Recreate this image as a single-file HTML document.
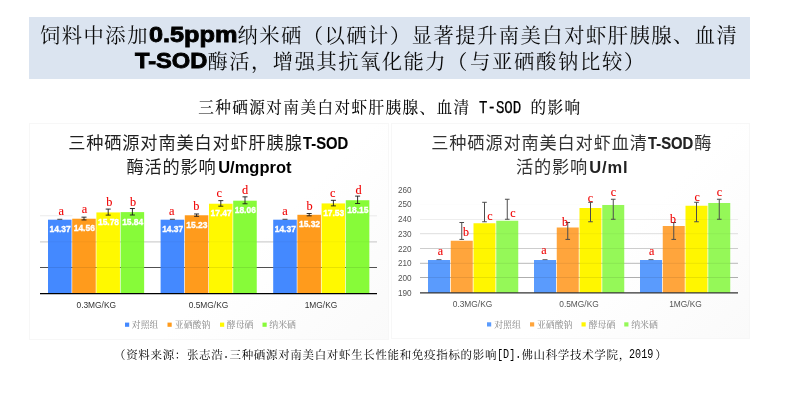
<!DOCTYPE html>
<html lang="zh-CN">
<head>
<meta charset="utf-8">
<title>饲料中添加0.5ppm纳米硒</title>
<style>
html,body{margin:0;padding:0;}
body{width:800px;height:405px;background:#fff;position:relative;overflow:hidden;font-family:"Liberation Serif","Noto Serif CJK SC",serif;}
.abs{position:absolute;white-space:nowrap;}
#banner{left:29px;top:17px;width:721px;height:62px;background:#dbe4f0;}
.h1{font-size:20.3px;letter-spacing:1.5px;line-height:26px;color:#0a0a0a;}
.h1 b{display:inline-block;height:26px;vertical-align:top;position:relative;}
.h1 b i{font-style:normal;position:absolute;left:0;top:-0.9px;font-family:"Liberation Sans",sans-serif;font-weight:700;-webkit-text-stroke:0.85px #000;color:#000;font-size:21.7px;letter-spacing:0;line-height:26px;transform-origin:0 50%;white-space:pre;}
#sub{left:198.3px;top:97.9px;font-size:15.6px;letter-spacing:1.42px;line-height:20px;color:#000;-webkit-text-stroke:0.1px #000;}
#sub span{display:inline-block;width:59.85px;height:20px;vertical-align:top;position:relative;}
#sub span i{font-style:normal;position:absolute;left:8.1px;top:0.3px;font-family:"Liberation Mono",monospace;font-size:17.6px;letter-spacing:0;line-height:20px;-webkit-text-stroke:0.25px #000;transform:scaleX(0.8);transform-origin:0 50%;white-space:pre;}
.ct{font-family:"Liberation Sans","Noto Sans CJK SC",sans-serif;font-size:17.2px;letter-spacing:0.85px;line-height:23px;color:#222;}
.ct b{font-family:"Liberation Sans",sans-serif;font-weight:700;color:#000;letter-spacing:0;}
.ct b.t{display:inline-block;width:46px;margin-left:0.5px;text-align:left;font-size:16.4px;}
.ct b.t i{font-style:normal;display:inline-block;transform:scaleX(0.905);transform-origin:0 50%;-webkit-text-stroke:0.15px #000;}
#foot{left:114px;top:346.4px;font-size:11.5px;letter-spacing:0.66px;line-height:18px;color:#000;}
#foot span{display:inline-block;height:18px;vertical-align:top;position:relative;}
#foot span i{font-style:normal;position:absolute;left:0;top:0;font-family:"Liberation Mono",monospace;font-size:12.6px;letter-spacing:0;line-height:18px;transform:scaleX(0.804);transform-origin:0 50%;white-space:pre;}
.frame{border:1px solid #f7f7f7;box-sizing:border-box;background:linear-gradient(135deg,#fff 0%,#fff 60%,#fafafa 100%);}
svg{position:absolute;left:0;top:0;}
</style>
</head>
<body>
<div class="abs" id="banner"></div>
<div class="abs h1" style="top:23.1px;left:40px">饲料中添加<b style="width:88.5px"><i style="transform:scaleX(1.165);left:0.2px">0.5ppm</i></b>纳米硒（以硒计）显著提升南美白对虾肝胰腺、血清</div>
<div class="abs h1" style="top:49.2px;left:135px"><b style="width:72.5px"><i style="transform:scaleX(1.092);left:0.2px">T-SOD</i></b>酶活，增强其抗氧化能力（<span style="letter-spacing:1.75px;margin-left:1px">与亚硒酸钠比较）</span></div>
<div class="abs" id="sub">三种硒源对南美白对虾肝胰腺、血清<span><i>T-SOD</i></span>的影响</div>
<div class="abs frame" style="left:29px;top:123px;width:360px;height:216.5px"></div>
<div class="abs frame" style="left:391px;top:123px;width:358.5px;height:216px"></div>
<div class="abs ct" style="left:68.2px;top:132.3px">三种硒源对南美白对虾肝胰腺<b class="t"><i>T-SOD</i></b></div>
<div class="abs ct" style="left:126.4px;top:155.5px">酶活的影响<b style="font-size:16.5px;margin-left:1.6px">U/mgprot</b></div>
<div class="abs ct" style="left:431.3px;top:132.3px;color:#333">三种硒源对南美白对虾血清<b class="t" style="color:#222"><i>T-SOD</i></b>酶</div>
<div class="abs ct" style="left:516px;top:155.5px;color:#333">活的影响<b style="font-size:16.5px;color:#222;margin-left:1.2px;letter-spacing:0.8px">U/ml</b></div>
<svg width="800" height="405" viewBox="0 0 800 405">
<line x1="40" x2="377" y1="267.50" y2="267.50" stroke="#505050" stroke-width="1"/>
<line x1="40" x2="377" y1="241.80" y2="241.80" stroke="#d0d0d0" stroke-width="1.3"/>
<line x1="40" x2="72.5" y1="215.80" y2="215.80" stroke="#ebebeb" stroke-width="1.1"/>
<line x1="369" x2="377" y1="215.80" y2="215.80" stroke="#ebebeb" stroke-width="1.1"/>
<rect x="48.00" y="219.69" width="23.55" height="74.01" fill="#4489ff"/>
<line x1="48.00" x2="71.55" y1="267.5" y2="267.5" stroke="#000" stroke-opacity="0.09" stroke-width="1"/>
<line x1="48.00" x2="71.55" y1="241.8" y2="241.8" stroke="#000" stroke-opacity="0.035" stroke-width="1"/>
<rect x="72.20" y="218.72" width="23.55" height="74.98" fill="#ff9b1c"/>
<line x1="72.20" x2="95.75" y1="267.5" y2="267.5" stroke="#000" stroke-opacity="0.09" stroke-width="1"/>
<line x1="72.20" x2="95.75" y1="241.8" y2="241.8" stroke="#000" stroke-opacity="0.035" stroke-width="1"/>
<rect x="96.40" y="212.43" width="23.55" height="81.27" fill="#fff900"/>
<line x1="96.40" x2="119.95" y1="267.5" y2="267.5" stroke="#000" stroke-opacity="0.09" stroke-width="1"/>
<line x1="96.40" x2="119.95" y1="241.8" y2="241.8" stroke="#000" stroke-opacity="0.035" stroke-width="1"/>
<rect x="120.60" y="212.12" width="23.55" height="81.58" fill="#87fb39"/>
<line x1="120.60" x2="144.15" y1="267.5" y2="267.5" stroke="#000" stroke-opacity="0.09" stroke-width="1"/>
<line x1="120.60" x2="144.15" y1="241.8" y2="241.8" stroke="#000" stroke-opacity="0.035" stroke-width="1"/>
<rect x="160.60" y="219.69" width="23.55" height="74.01" fill="#4489ff"/>
<line x1="160.60" x2="184.15" y1="267.5" y2="267.5" stroke="#000" stroke-opacity="0.09" stroke-width="1"/>
<line x1="160.60" x2="184.15" y1="241.8" y2="241.8" stroke="#000" stroke-opacity="0.035" stroke-width="1"/>
<rect x="184.80" y="215.27" width="23.55" height="78.43" fill="#ff9b1c"/>
<line x1="184.80" x2="208.35" y1="267.5" y2="267.5" stroke="#000" stroke-opacity="0.09" stroke-width="1"/>
<line x1="184.80" x2="208.35" y1="241.8" y2="241.8" stroke="#000" stroke-opacity="0.035" stroke-width="1"/>
<rect x="209.00" y="203.73" width="23.55" height="89.97" fill="#fff900"/>
<line x1="209.00" x2="232.55" y1="267.5" y2="267.5" stroke="#000" stroke-opacity="0.09" stroke-width="1"/>
<line x1="209.00" x2="232.55" y1="241.8" y2="241.8" stroke="#000" stroke-opacity="0.035" stroke-width="1"/>
<rect x="233.20" y="200.69" width="23.55" height="93.01" fill="#87fb39"/>
<line x1="233.20" x2="256.75" y1="267.5" y2="267.5" stroke="#000" stroke-opacity="0.09" stroke-width="1"/>
<line x1="233.20" x2="256.75" y1="241.8" y2="241.8" stroke="#000" stroke-opacity="0.035" stroke-width="1"/>
<rect x="273.20" y="219.69" width="23.55" height="74.01" fill="#4489ff"/>
<line x1="273.20" x2="296.75" y1="267.5" y2="267.5" stroke="#000" stroke-opacity="0.09" stroke-width="1"/>
<line x1="273.20" x2="296.75" y1="241.8" y2="241.8" stroke="#000" stroke-opacity="0.035" stroke-width="1"/>
<rect x="297.40" y="214.80" width="23.55" height="78.90" fill="#ff9b1c"/>
<line x1="297.40" x2="320.95" y1="267.5" y2="267.5" stroke="#000" stroke-opacity="0.09" stroke-width="1"/>
<line x1="297.40" x2="320.95" y1="241.8" y2="241.8" stroke="#000" stroke-opacity="0.035" stroke-width="1"/>
<rect x="321.60" y="203.42" width="23.55" height="90.28" fill="#fff900"/>
<line x1="321.60" x2="345.15" y1="267.5" y2="267.5" stroke="#000" stroke-opacity="0.09" stroke-width="1"/>
<line x1="321.60" x2="345.15" y1="241.8" y2="241.8" stroke="#000" stroke-opacity="0.035" stroke-width="1"/>
<rect x="345.80" y="200.23" width="23.55" height="93.47" fill="#87fb39"/>
<line x1="345.80" x2="369.35" y1="267.5" y2="267.5" stroke="#000" stroke-opacity="0.09" stroke-width="1"/>
<line x1="345.80" x2="369.35" y1="241.8" y2="241.8" stroke="#000" stroke-opacity="0.035" stroke-width="1"/>
<path d="M57.30 219.29h5" stroke="#1a1a1a" stroke-width="0.8" fill="none"/>
<text x="60.10" y="232.09" text-anchor="middle" font-family='"Liberation Sans","Noto Sans CJK SC",sans-serif' font-weight="700" font-size="8.45" fill="#fff" stroke="#fff" stroke-width="0.35">14.37</text>
<text x="61.25" y="214.65" text-anchor="middle" font-family='"Liberation Serif","Noto Serif CJK SC",serif' font-size="12.3" fill="#f00000" stroke="#f00000" stroke-width="0.1">a</text>
<path d="M84.00 217.17V219.95M81.50 217.17h5M81.50 219.95h5" stroke="#1a1a1a" stroke-width="0.9" fill="none"/>
<text x="84.30" y="231.12" text-anchor="middle" font-family='"Liberation Sans","Noto Sans CJK SC",sans-serif' font-weight="700" font-size="8.45" fill="#fff" stroke="#fff" stroke-width="0.35">14.56</text>
<text x="84.5" y="212.90" text-anchor="middle" font-family='"Liberation Serif","Noto Serif CJK SC",serif' font-size="12.3" fill="#f00000" stroke="#f00000" stroke-width="0.1">a</text>
<path d="M108.20 209.09V215.11M105.70 209.09h5M105.70 215.11h5" stroke="#1a1a1a" stroke-width="0.9" fill="none"/>
<text x="108.50" y="224.83" text-anchor="middle" font-family='"Liberation Sans","Noto Sans CJK SC",sans-serif' font-weight="700" font-size="8.45" fill="#fff" stroke="#fff" stroke-width="0.35">15.78</text>
<text x="109.25" y="205.55" text-anchor="middle" font-family='"Liberation Serif","Noto Serif CJK SC",serif' font-size="12.3" fill="#f00000" stroke="#f00000" stroke-width="0.1">b</text>
<path d="M132.40 208.52V215.01M129.90 208.52h5M129.90 215.01h5" stroke="#1a1a1a" stroke-width="0.9" fill="none"/>
<text x="132.70" y="224.52" text-anchor="middle" font-family='"Liberation Sans","Noto Sans CJK SC",sans-serif' font-weight="700" font-size="8.45" fill="#fff" stroke="#fff" stroke-width="0.35">15.84</text>
<text x="133" y="205.55" text-anchor="middle" font-family='"Liberation Serif","Noto Serif CJK SC",serif' font-size="12.3" fill="#f00000" stroke="#f00000" stroke-width="0.1">b</text>
<path d="M169.90 219.29h5" stroke="#1a1a1a" stroke-width="0.8" fill="none"/>
<text x="172.70" y="232.09" text-anchor="middle" font-family='"Liberation Sans","Noto Sans CJK SC",sans-serif' font-weight="700" font-size="8.45" fill="#fff" stroke="#fff" stroke-width="0.35">14.37</text>
<text x="171.75" y="214.65" text-anchor="middle" font-family='"Liberation Serif","Noto Serif CJK SC",serif' font-size="12.3" fill="#f00000" stroke="#f00000" stroke-width="0.1">a</text>
<path d="M196.60 213.98V216.30M194.10 213.98h5M194.10 216.30h5" stroke="#1a1a1a" stroke-width="0.9" fill="none"/>
<text x="196.90" y="227.67" text-anchor="middle" font-family='"Liberation Sans","Noto Sans CJK SC",sans-serif' font-weight="700" font-size="8.45" fill="#fff" stroke="#fff" stroke-width="0.35">15.23</text>
<text x="196.25" y="210.05" text-anchor="middle" font-family='"Liberation Serif","Noto Serif CJK SC",serif' font-size="12.3" fill="#f00000" stroke="#f00000" stroke-width="0.1">b</text>
<path d="M220.80 200.64V206.20M218.30 200.64h5M218.30 206.20h5" stroke="#1a1a1a" stroke-width="0.9" fill="none"/>
<text x="221.10" y="216.13" text-anchor="middle" font-family='"Liberation Sans","Noto Sans CJK SC",sans-serif' font-weight="700" font-size="8.45" fill="#fff" stroke="#fff" stroke-width="0.35">17.47</text>
<text x="219.3" y="197.40" text-anchor="middle" font-family='"Liberation Serif","Noto Serif CJK SC",serif' font-size="12.3" fill="#f00000" stroke="#f00000" stroke-width="0.1">c</text>
<path d="M245.00 196.83V203.78M242.50 196.83h5M242.50 203.78h5" stroke="#1a1a1a" stroke-width="0.9" fill="none"/>
<text x="245.30" y="213.09" text-anchor="middle" font-family='"Liberation Sans","Noto Sans CJK SC",sans-serif' font-weight="700" font-size="8.45" fill="#fff" stroke="#fff" stroke-width="0.35">18.06</text>
<text x="245" y="193.80" text-anchor="middle" font-family='"Liberation Serif","Noto Serif CJK SC",serif' font-size="12.3" fill="#f00000" stroke="#f00000" stroke-width="0.1">d</text>
<path d="M282.50 219.29h5" stroke="#1a1a1a" stroke-width="0.8" fill="none"/>
<text x="285.30" y="232.09" text-anchor="middle" font-family='"Liberation Sans","Noto Sans CJK SC",sans-serif' font-weight="700" font-size="8.45" fill="#fff" stroke="#fff" stroke-width="0.35">14.37</text>
<text x="285" y="214.65" text-anchor="middle" font-family='"Liberation Serif","Noto Serif CJK SC",serif' font-size="12.3" fill="#f00000" stroke="#f00000" stroke-width="0.1">a</text>
<path d="M309.20 213.51V215.83M306.70 213.51h5M306.70 215.83h5" stroke="#1a1a1a" stroke-width="0.9" fill="none"/>
<text x="309.50" y="227.20" text-anchor="middle" font-family='"Liberation Sans","Noto Sans CJK SC",sans-serif' font-weight="700" font-size="8.45" fill="#fff" stroke="#fff" stroke-width="0.35">15.32</text>
<text x="309.5" y="210.05" text-anchor="middle" font-family='"Liberation Serif","Noto Serif CJK SC",serif' font-size="12.3" fill="#f00000" stroke="#f00000" stroke-width="0.1">b</text>
<path d="M333.40 200.33V205.89M330.90 200.33h5M330.90 205.89h5" stroke="#1a1a1a" stroke-width="0.9" fill="none"/>
<text x="333.70" y="215.82" text-anchor="middle" font-family='"Liberation Sans","Noto Sans CJK SC",sans-serif' font-weight="700" font-size="8.45" fill="#fff" stroke="#fff" stroke-width="0.35">17.53</text>
<text x="332.75" y="197.40" text-anchor="middle" font-family='"Liberation Serif","Noto Serif CJK SC",serif' font-size="12.3" fill="#f00000" stroke="#f00000" stroke-width="0.1">c</text>
<path d="M357.60 196.11V203.52M355.10 196.11h5M355.10 203.52h5" stroke="#1a1a1a" stroke-width="0.9" fill="none"/>
<text x="357.90" y="212.63" text-anchor="middle" font-family='"Liberation Sans","Noto Sans CJK SC",sans-serif' font-weight="700" font-size="8.45" fill="#fff" stroke="#fff" stroke-width="0.35">18.15</text>
<text x="358.5" y="193.80" text-anchor="middle" font-family='"Liberation Serif","Noto Serif CJK SC",serif' font-size="12.3" fill="#f00000" stroke="#f00000" stroke-width="0.1">d</text>
<line x1="40" x2="377" y1="293.7" y2="293.7" stroke="#000" stroke-width="1.2"/>
<text x="96.25" y="308.3" text-anchor="middle" font-family='"Liberation Sans","Noto Sans CJK SC",sans-serif' font-size="8.4" fill="#333">0.3MG/KG</text>
<text x="208.5" y="308.3" text-anchor="middle" font-family='"Liberation Sans","Noto Sans CJK SC",sans-serif' font-size="8.4" fill="#333">0.5MG/KG</text>
<text x="321" y="308.3" text-anchor="middle" font-family='"Liberation Sans","Noto Sans CJK SC",sans-serif' font-size="8.4" fill="#333">1MG/KG</text>
<rect x="125" y="322.6" width="4.2" height="4.2" fill="#4489ff"/>
<text x="131.8" y="328.4" font-family='"Liberation Serif","Noto Serif CJK SC",serif' font-size="8.9" fill="#858585">对照组</text>
<rect x="167.5" y="322.6" width="4.2" height="4.2" fill="#ff9b1c"/>
<text x="174.8" y="328.4" font-family='"Liberation Serif","Noto Serif CJK SC",serif' font-size="8.9" fill="#858585">亚硒酸钠</text>
<rect x="220" y="322.6" width="4.2" height="4.2" fill="#fff900"/>
<text x="226.8" y="328.4" font-family='"Liberation Serif","Noto Serif CJK SC",serif' font-size="8.9" fill="#858585">酵母硒</text>
<rect x="262.5" y="322.6" width="4.2" height="4.2" fill="#87fb39"/>
<text x="269.3" y="328.4" font-family='"Liberation Serif","Noto Serif CJK SC",serif' font-size="8.9" fill="#858585">纳米硒</text>
<line x1="420" x2="738" y1="277.5" y2="277.5" stroke="#aeaeae" stroke-width="1"/>
<line x1="420" x2="738" y1="263.3" y2="263.3" stroke="#b8b8b8" stroke-width="1"/>
<line x1="420" x2="738" y1="248.5" y2="248.5" stroke="#cdcdcd" stroke-width="1"/>
<line x1="420" x2="738" y1="233.7" y2="233.7" stroke="#dedede" stroke-width="1"/>
<line x1="420" x2="738" y1="219.5" y2="219.5" stroke="#eeeeee" stroke-width="1"/>
<line x1="420" x2="738" y1="204.6" y2="204.6" stroke="#fdfdfd" stroke-width="1"/>
<text x="398" y="295.60" font-family='"Liberation Sans","Noto Sans CJK SC",sans-serif' font-size="8.2" fill="#555">190</text>
<text x="398" y="280.90" font-family='"Liberation Sans","Noto Sans CJK SC",sans-serif' font-size="8.2" fill="#555">200</text>
<text x="398" y="266.20" font-family='"Liberation Sans","Noto Sans CJK SC",sans-serif' font-size="8.2" fill="#555">210</text>
<text x="398" y="251.50" font-family='"Liberation Sans","Noto Sans CJK SC",sans-serif' font-size="8.2" fill="#555">220</text>
<text x="398" y="236.80" font-family='"Liberation Sans","Noto Sans CJK SC",sans-serif' font-size="8.2" fill="#555">230</text>
<text x="398" y="222.10" font-family='"Liberation Sans","Noto Sans CJK SC",sans-serif' font-size="8.2" fill="#555">240</text>
<text x="398" y="207.40" font-family='"Liberation Sans","Noto Sans CJK SC",sans-serif' font-size="8.2" fill="#555">250</text>
<text x="398" y="192.70" font-family='"Liberation Sans","Noto Sans CJK SC",sans-serif' font-size="8.2" fill="#555">260</text>
<rect x="428.00" y="260.00" width="22" height="32.90" fill="#5a9bfd"/>
<line x1="428.00" x2="450.00" y1="277.5" y2="277.5" stroke="#000" stroke-opacity="0.085" stroke-width="1"/>
<line x1="428.00" x2="450.00" y1="263.3" y2="263.3" stroke="#000" stroke-opacity="0.071" stroke-width="1"/>
<rect x="450.75" y="240.75" width="22" height="52.15" fill="#ffa53c"/>
<line x1="450.75" x2="472.75" y1="277.5" y2="277.5" stroke="#000" stroke-opacity="0.085" stroke-width="1"/>
<line x1="450.75" x2="472.75" y1="263.3" y2="263.3" stroke="#000" stroke-opacity="0.071" stroke-width="1"/>
<line x1="450.75" x2="472.75" y1="248.5" y2="248.5" stroke="#000" stroke-opacity="0.057" stroke-width="1"/>
<rect x="473.50" y="223.25" width="22" height="69.65" fill="#fff600"/>
<line x1="473.50" x2="495.50" y1="277.5" y2="277.5" stroke="#000" stroke-opacity="0.085" stroke-width="1"/>
<line x1="473.50" x2="495.50" y1="263.3" y2="263.3" stroke="#000" stroke-opacity="0.071" stroke-width="1"/>
<line x1="473.50" x2="495.50" y1="248.5" y2="248.5" stroke="#000" stroke-opacity="0.057" stroke-width="1"/>
<line x1="473.50" x2="495.50" y1="233.7" y2="233.7" stroke="#000" stroke-opacity="0.043" stroke-width="1"/>
<rect x="496.25" y="220.75" width="22" height="72.15" fill="#95f858"/>
<line x1="496.25" x2="518.25" y1="277.5" y2="277.5" stroke="#000" stroke-opacity="0.085" stroke-width="1"/>
<line x1="496.25" x2="518.25" y1="263.3" y2="263.3" stroke="#000" stroke-opacity="0.071" stroke-width="1"/>
<line x1="496.25" x2="518.25" y1="248.5" y2="248.5" stroke="#000" stroke-opacity="0.057" stroke-width="1"/>
<line x1="496.25" x2="518.25" y1="233.7" y2="233.7" stroke="#000" stroke-opacity="0.043" stroke-width="1"/>
<rect x="534.00" y="260.00" width="22" height="32.90" fill="#5a9bfd"/>
<line x1="534.00" x2="556.00" y1="277.5" y2="277.5" stroke="#000" stroke-opacity="0.085" stroke-width="1"/>
<line x1="534.00" x2="556.00" y1="263.3" y2="263.3" stroke="#000" stroke-opacity="0.071" stroke-width="1"/>
<rect x="556.75" y="227.50" width="22" height="65.40" fill="#ffa53c"/>
<line x1="556.75" x2="578.75" y1="277.5" y2="277.5" stroke="#000" stroke-opacity="0.085" stroke-width="1"/>
<line x1="556.75" x2="578.75" y1="263.3" y2="263.3" stroke="#000" stroke-opacity="0.071" stroke-width="1"/>
<line x1="556.75" x2="578.75" y1="248.5" y2="248.5" stroke="#000" stroke-opacity="0.057" stroke-width="1"/>
<line x1="556.75" x2="578.75" y1="233.7" y2="233.7" stroke="#000" stroke-opacity="0.043" stroke-width="1"/>
<rect x="579.50" y="208.00" width="22" height="84.90" fill="#fff600"/>
<line x1="579.50" x2="601.50" y1="277.5" y2="277.5" stroke="#000" stroke-opacity="0.085" stroke-width="1"/>
<line x1="579.50" x2="601.50" y1="263.3" y2="263.3" stroke="#000" stroke-opacity="0.071" stroke-width="1"/>
<line x1="579.50" x2="601.50" y1="248.5" y2="248.5" stroke="#000" stroke-opacity="0.057" stroke-width="1"/>
<line x1="579.50" x2="601.50" y1="233.7" y2="233.7" stroke="#000" stroke-opacity="0.043" stroke-width="1"/>
<line x1="579.50" x2="601.50" y1="219.5" y2="219.5" stroke="#000" stroke-opacity="0.029" stroke-width="1"/>
<rect x="602.25" y="205.00" width="22" height="87.90" fill="#95f858"/>
<line x1="602.25" x2="624.25" y1="277.5" y2="277.5" stroke="#000" stroke-opacity="0.085" stroke-width="1"/>
<line x1="602.25" x2="624.25" y1="263.3" y2="263.3" stroke="#000" stroke-opacity="0.071" stroke-width="1"/>
<line x1="602.25" x2="624.25" y1="248.5" y2="248.5" stroke="#000" stroke-opacity="0.057" stroke-width="1"/>
<line x1="602.25" x2="624.25" y1="233.7" y2="233.7" stroke="#000" stroke-opacity="0.043" stroke-width="1"/>
<line x1="602.25" x2="624.25" y1="219.5" y2="219.5" stroke="#000" stroke-opacity="0.029" stroke-width="1"/>
<rect x="640.00" y="260.00" width="22" height="32.90" fill="#5a9bfd"/>
<line x1="640.00" x2="662.00" y1="277.5" y2="277.5" stroke="#000" stroke-opacity="0.085" stroke-width="1"/>
<line x1="640.00" x2="662.00" y1="263.3" y2="263.3" stroke="#000" stroke-opacity="0.071" stroke-width="1"/>
<rect x="662.75" y="226.00" width="22" height="66.90" fill="#ffa53c"/>
<line x1="662.75" x2="684.75" y1="277.5" y2="277.5" stroke="#000" stroke-opacity="0.085" stroke-width="1"/>
<line x1="662.75" x2="684.75" y1="263.3" y2="263.3" stroke="#000" stroke-opacity="0.071" stroke-width="1"/>
<line x1="662.75" x2="684.75" y1="248.5" y2="248.5" stroke="#000" stroke-opacity="0.057" stroke-width="1"/>
<line x1="662.75" x2="684.75" y1="233.7" y2="233.7" stroke="#000" stroke-opacity="0.043" stroke-width="1"/>
<rect x="685.50" y="205.75" width="22" height="87.15" fill="#fff600"/>
<line x1="685.50" x2="707.50" y1="277.5" y2="277.5" stroke="#000" stroke-opacity="0.085" stroke-width="1"/>
<line x1="685.50" x2="707.50" y1="263.3" y2="263.3" stroke="#000" stroke-opacity="0.071" stroke-width="1"/>
<line x1="685.50" x2="707.50" y1="248.5" y2="248.5" stroke="#000" stroke-opacity="0.057" stroke-width="1"/>
<line x1="685.50" x2="707.50" y1="233.7" y2="233.7" stroke="#000" stroke-opacity="0.043" stroke-width="1"/>
<line x1="685.50" x2="707.50" y1="219.5" y2="219.5" stroke="#000" stroke-opacity="0.029" stroke-width="1"/>
<rect x="708.25" y="203.00" width="22" height="89.90" fill="#95f858"/>
<line x1="708.25" x2="730.25" y1="277.5" y2="277.5" stroke="#000" stroke-opacity="0.085" stroke-width="1"/>
<line x1="708.25" x2="730.25" y1="263.3" y2="263.3" stroke="#000" stroke-opacity="0.071" stroke-width="1"/>
<line x1="708.25" x2="730.25" y1="248.5" y2="248.5" stroke="#000" stroke-opacity="0.057" stroke-width="1"/>
<line x1="708.25" x2="730.25" y1="233.7" y2="233.7" stroke="#000" stroke-opacity="0.043" stroke-width="1"/>
<line x1="708.25" x2="730.25" y1="219.5" y2="219.5" stroke="#000" stroke-opacity="0.029" stroke-width="1"/>
<path d="M436.50 259.6h5" stroke="#444" stroke-width="0.8" fill="none"/>
<text x="440.5" y="254.90" text-anchor="middle" font-family='"Liberation Serif","Noto Serif CJK SC",serif' font-size="12" fill="#f00000" stroke="#f00000" stroke-width="0.1">a</text>
<path d="M461.75 222.5V239.4M459.45 222.5h4.6M459.45 239.4h4.6" stroke="#4c4c4c" stroke-width="1" fill="none"/>
<text x="466" y="235.55" text-anchor="middle" font-family='"Liberation Serif","Noto Serif CJK SC",serif' font-size="12" fill="#f00000" stroke="#f00000" stroke-width="0.1">b</text>
<path d="M484.50 202.3V221.75M482.20 202.3h4.6M482.20 221.75h4.6" stroke="#4c4c4c" stroke-width="1" fill="none"/>
<text x="490" y="219.65" text-anchor="middle" font-family='"Liberation Serif","Noto Serif CJK SC",serif' font-size="12" fill="#f00000" stroke="#f00000" stroke-width="0.1">c</text>
<path d="M507.25 199.25V219.25M504.95 199.25h4.6M504.95 219.25h4.6" stroke="#4c4c4c" stroke-width="1" fill="none"/>
<text x="513" y="216.65" text-anchor="middle" font-family='"Liberation Serif","Noto Serif CJK SC",serif' font-size="12" fill="#f00000" stroke="#f00000" stroke-width="0.1">c</text>
<path d="M542.50 259.6h5" stroke="#444" stroke-width="0.8" fill="none"/>
<text x="544" y="253.65" text-anchor="middle" font-family='"Liberation Serif","Noto Serif CJK SC",serif' font-size="12" fill="#f00000" stroke="#f00000" stroke-width="0.1">a</text>
<path d="M567.75 222.5V239.4M565.45 222.5h4.6M565.45 239.4h4.6" stroke="#4c4c4c" stroke-width="1" fill="none"/>
<text x="565" y="226.05" text-anchor="middle" font-family='"Liberation Serif","Noto Serif CJK SC",serif' font-size="12" fill="#f00000" stroke="#f00000" stroke-width="0.1">b</text>
<path d="M590.50 202.3V221.75M588.20 202.3h4.6M588.20 221.75h4.6" stroke="#4c4c4c" stroke-width="1" fill="none"/>
<text x="590.5" y="202.15" text-anchor="middle" font-family='"Liberation Serif","Noto Serif CJK SC",serif' font-size="12" fill="#f00000" stroke="#f00000" stroke-width="0.1">c</text>
<path d="M613.25 199.25V219.25M610.95 199.25h4.6M610.95 219.25h4.6" stroke="#4c4c4c" stroke-width="1" fill="none"/>
<text x="613.5" y="195.90" text-anchor="middle" font-family='"Liberation Serif","Noto Serif CJK SC",serif' font-size="12" fill="#f00000" stroke="#f00000" stroke-width="0.1">c</text>
<path d="M648.50 259.6h5" stroke="#444" stroke-width="0.8" fill="none"/>
<text x="651.75" y="254.90" text-anchor="middle" font-family='"Liberation Serif","Noto Serif CJK SC",serif' font-size="12" fill="#f00000" stroke="#f00000" stroke-width="0.1">a</text>
<path d="M673.75 222.5V239.4M671.45 222.5h4.6M671.45 239.4h4.6" stroke="#4c4c4c" stroke-width="1" fill="none"/>
<text x="673.1" y="223.05" text-anchor="middle" font-family='"Liberation Serif","Noto Serif CJK SC",serif' font-size="12" fill="#f00000" stroke="#f00000" stroke-width="0.1">b</text>
<path d="M696.50 202.3V221.75M694.20 202.3h4.6M694.20 221.75h4.6" stroke="#4c4c4c" stroke-width="1" fill="none"/>
<text x="697.25" y="200.90" text-anchor="middle" font-family='"Liberation Serif","Noto Serif CJK SC",serif' font-size="12" fill="#f00000" stroke="#f00000" stroke-width="0.1">c</text>
<path d="M719.25 199.25V219.25M716.95 199.25h4.6M716.95 219.25h4.6" stroke="#4c4c4c" stroke-width="1" fill="none"/>
<text x="719.5" y="195.90" text-anchor="middle" font-family='"Liberation Serif","Noto Serif CJK SC",serif' font-size="12" fill="#f00000" stroke="#f00000" stroke-width="0.1">c</text>
<line x1="420" x2="738" y1="292.9" y2="292.9" stroke="#333" stroke-width="1.35"/>
<text x="472.5" y="306.9" text-anchor="middle" font-family='"Liberation Sans","Noto Sans CJK SC",sans-serif' font-size="8.4" fill="#555">0.3MG/KG</text>
<text x="579" y="306.9" text-anchor="middle" font-family='"Liberation Sans","Noto Sans CJK SC",sans-serif' font-size="8.4" fill="#555">0.5MG/KG</text>
<text x="685.5" y="306.9" text-anchor="middle" font-family='"Liberation Sans","Noto Sans CJK SC",sans-serif' font-size="8.4" fill="#555">1MG/KG</text>
<rect x="487" y="322.3" width="4.2" height="4.2" fill="#5a9bfd"/>
<text x="494.25" y="327.8" font-family='"Liberation Serif","Noto Serif CJK SC",serif' font-size="8.9" fill="#858585">对照组</text>
<rect x="530" y="322.3" width="4.2" height="4.2" fill="#ffa53c"/>
<text x="537" y="327.8" font-family='"Liberation Serif","Noto Serif CJK SC",serif' font-size="8.9" fill="#858585">亚硒酸钠</text>
<rect x="581.5" y="322.3" width="4.2" height="4.2" fill="#fff600"/>
<text x="588.75" y="327.8" font-family='"Liberation Serif","Noto Serif CJK SC",serif' font-size="8.9" fill="#858585">酵母硒</text>
<rect x="624.25" y="322.3" width="4.2" height="4.2" fill="#95f858"/>
<text x="631.25" y="327.8" font-family='"Liberation Serif","Noto Serif CJK SC",serif' font-size="8.9" fill="#858585">纳米硒</text>
</svg>
<div class="abs" id="foot">（资料来源：张志浩<span style="width:6.08px"><i>.</i></span>三种硒源对南美白对虾生长性能和免疫指标的影响<span style="width:24.32px"><i>[D].</i></span>佛山科学技术学院，<span style="width:24.32px;margin-left:-1.5px;margin-right:1.5px"><i>2019</i></span>）</div>
</body>
</html>
